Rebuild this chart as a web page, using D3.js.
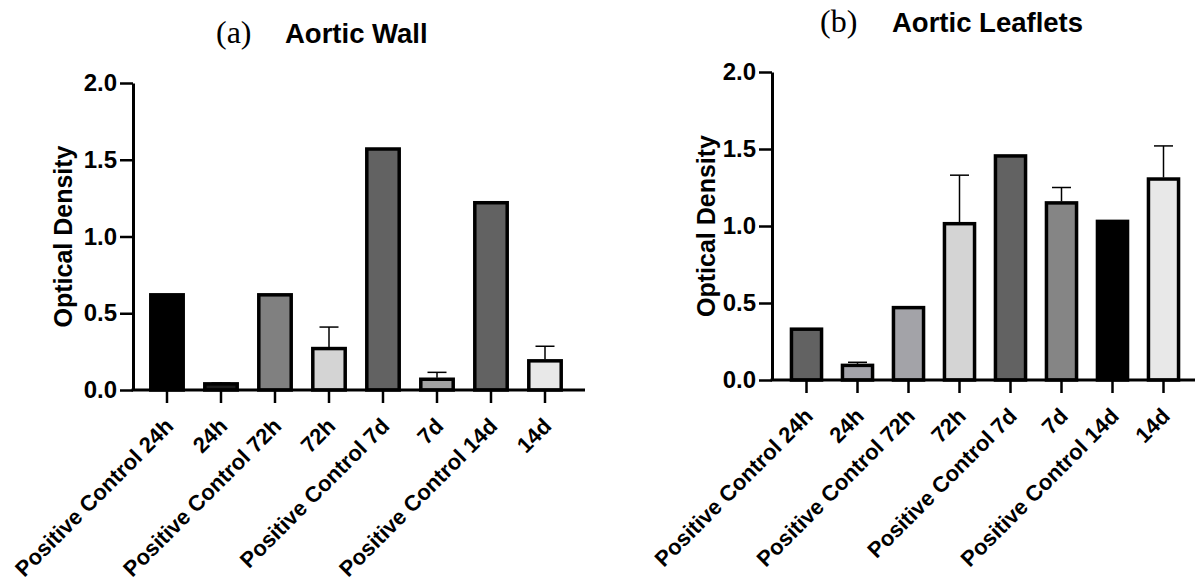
<!DOCTYPE html>
<html>
<head>
<meta charset="utf-8">
<script src="https://cdn.jsdelivr.net/npm/d3@7"></script>
<style>
  body { margin: 0; background: #fff; }
  svg { display: block; }
  .tick text, .label, .axis-title { font-family: "Liberation Sans", Arial, sans-serif; font-weight: bold; fill: #000; }
</style>
</head>
<body>
<svg></svg>
<script>
const categories = ['Positive Control 24h', '24h', 'Positive Control 72h', '72h',
  'Positive Control 7d', '7d', 'Positive Control 14d', '14d'];
const yTicks = [0, 0.5, 1.0, 1.5, 2.0];

// (a) aortic wall
const wallMeans = [0.62, 0.04, 0.62, 0.27, 1.57, 0.07, 1.22, 0.19];
const wallErrTop = [null, 0.045, null, 0.41, null, 0.115, null, 0.285];
const wallFills = ['#000000', '#1c1c1c', '#808080', '#d4d4d4', '#626262', '#a3a3a3', '#626262', '#e8e8e8'];

// (b) aortic leaflets
const leafMeans = [0.33, 0.095, 0.47, 1.015, 1.455, 1.15, 1.03, 1.305];
const leafErrTop = [null, 0.115, null, 1.33, null, 1.25, null, 1.52];
const leafFills = ['#626262', '#a3a3aa', '#a3a3a8', '#d4d4d4', '#626262', '#858585', '#000000', '#e8e8e8'];

const svg = d3.select('svg').attr('width', 1195).attr('height', 581);

function drawPanel(p) {
  const g = svg.append('g');
  const data = categories.map((c, i) => ({ cat: c, value: p.means[i], err: p.errTop[i], fill: p.fills[i] }));

  const xScale = d3.scaleBand().domain(categories)
    .range([p.bandStart, p.bandStart + p.step * categories.length])
    .paddingInner(p.pad).paddingOuter(p.pad / 2);
  const yScale = d3.scaleLinear().domain([0, 2]).range([p.y0, p.y2]);

  // bars
  g.selectAll('.bar')
    .data(data)
    .enter()
    .append('rect')
    .classed('bar', true)
    .attr('x', d => xScale(d.cat))
    .attr('y', d => yScale(d.value))
    .attr('width', xScale.bandwidth())
    .attr('height', d => yScale(0) - yScale(d.value))
    .attr('fill', d => d.fill)
    .attr('stroke', '#000')
    .attr('stroke-width', 3.5);

  // error bars (upper only)
  const withErr = data.filter(d => d.err != null);
  const cx = d => xScale(d.cat) + xScale.bandwidth() / 2;
  g.selectAll('.err')
    .data(withErr)
    .enter()
    .append('line')
    .attr('x1', cx).attr('x2', cx)
    .attr('y1', d => yScale(d.value) - 1.5)
    .attr('y2', d => yScale(d.err))
    .attr('stroke', '#000').attr('stroke-width', 1.5);
  g.selectAll('.cap')
    .data(withErr)
    .enter()
    .append('line')
    .attr('x1', d => cx(d) - p.cap / 2).attr('x2', d => cx(d) + p.cap / 2)
    .attr('y1', d => yScale(d.err)).attr('y2', d => yScale(d.err))
    .attr('stroke', '#000').attr('stroke-width', 1.5);

  // y axis
  const yAxis = g.append('g')
    .attr('transform', `translate(${p.axisX},0)`)
    .call(d3.axisLeft(yScale).tickValues(yTicks).tickFormat(d3.format('.1f')).tickSize(13).tickSizeOuter(0).tickPadding(3));
  yAxis.select('.domain').attr('stroke-width', 3);
  yAxis.selectAll('.tick line').attr('stroke-width', 2.5);
  yAxis.selectAll('.tick text').style('font-size', '24px');

  // x axis
  const xAxis = g.append('g')
    .attr('transform', `translate(0,${p.y0})`)
    .call(d3.axisBottom(xScale).tickSize(13).tickSizeOuter(0));
  xAxis.select('.domain').remove();
  xAxis.selectAll('.tick line').attr('stroke-width', 2.5);
  xAxis.selectAll('.tick text')
    .style('font-size', '22px')
    .attr('text-anchor', 'end')
    .attr('dy', null)
    .attr('x', -21)
    .attr('y', 32)
    .attr('transform', 'rotate(-45)');
  g.append('line')
    .attr('x1', p.axisX - 1.5).attr('x2', p.axisEnd)
    .attr('y1', p.y0).attr('y2', p.y0)
    .attr('stroke', '#000').attr('stroke-width', 3);

  // y title
  g.append('text')
    .classed('axis-title', true)
    .attr('transform', `translate(${p.titleX},${(p.y0 + p.y2) / 2}) rotate(-90)`)
    .attr('text-anchor', 'middle')
    .style('font-size', '25px')
    .text('Optical Density');

  // panel heading
  g.append('text')
    .attr('x', p.letterX).attr('y', p.headY)
    .style('font-family', '"Liberation Serif", "DejaVu Serif", serif')
    .style('font-size', '32px')
    .text(p.letter);
  g.append('text')
    .classed('label', true)
    .attr('x', p.headX).attr('y', p.headY)
    .style('font-size', '27.5px')
    .text(p.heading);
}

drawPanel({
  means: wallMeans, errTop: wallErrTop, fills: wallFills,
  axisX: 133, axisEnd: 585, y0: 390, y2: 83,
  bandStart: 140, step: 54, pad: 0.4, cap: 19,
  titleX: 72, letter: '(a)', letterX: 216, heading: 'Aortic Wall', headX: 285, headY: 43
});

drawPanel({
  means: leafMeans, errTop: leafErrTop, fills: leafFills,
  axisX: 772, axisEnd: 1195, y0: 380, y2: 72,
  bandStart: 781, step: 51, pad: 0.41, cap: 19,
  titleX: 715, letter: '(b)', letterX: 820, heading: 'Aortic Leaflets', headX: 892, headY: 32
});
</script>
</body>
</html>
